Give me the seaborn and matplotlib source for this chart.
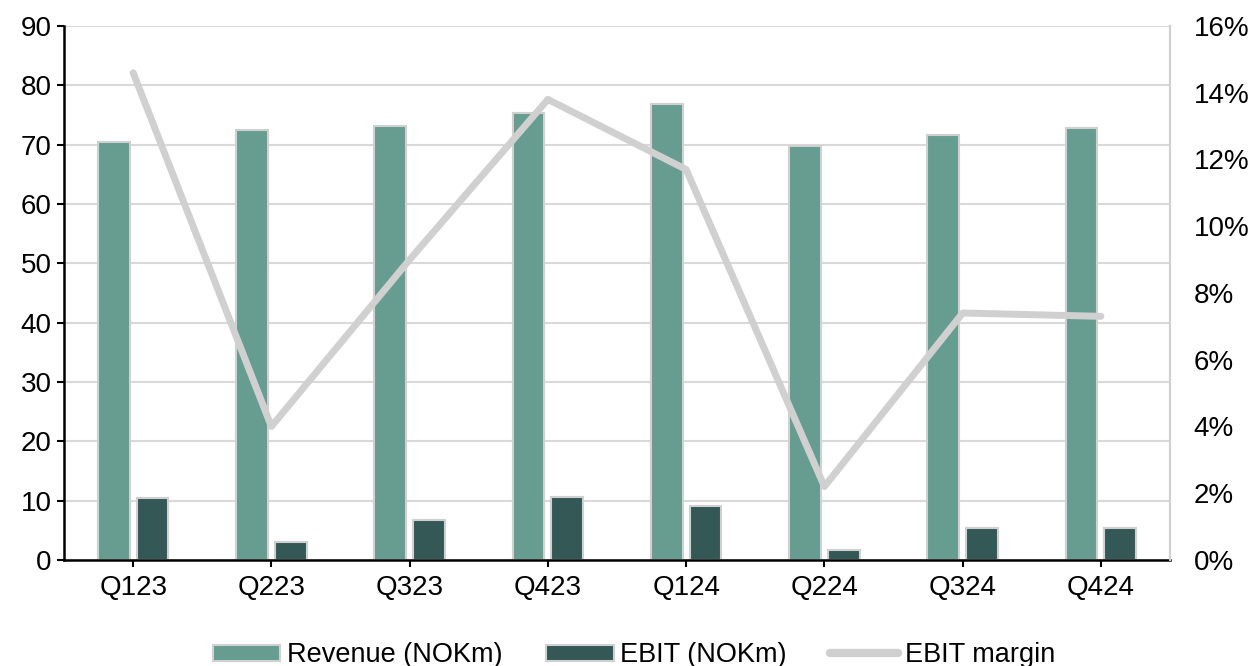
import numpy as np
import matplotlib.pyplot as plt
import matplotlib.ticker as mtick
import pandas as pd
import seaborn as sns

quarters = ["Q123", "Q223", "Q323", "Q423", "Q124", "Q224", "Q324", "Q424"]
revenue = [70.4, 72.4, 73.1, 75.3, 76.9, 69.7, 71.6, 72.8]
ebit = [10.4, 3.0, 6.7, 10.6, 9.1, 1.7, 5.4, 5.4]
margin = [0.146, 0.040, 0.090, 0.138, 0.117, 0.022, 0.074, 0.073]

rev_label = "Revenue (NOKm)"
ebit_label = "EBIT (NOKm)"
margin_label = "EBIT margin"

sns.set_theme(style="white")
plt.rcParams["font.family"] = ["Liberation Sans", "DejaVu Sans"]
plt.rcParams["text.color"] = "black"

df = pd.DataFrame({"quarter": quarters, rev_label: revenue, ebit_label: ebit})
long = df.melt(id_vars="quarter", var_name="series", value_name="value")

fig = plt.figure(figsize=(12.6, 6.66), dpi=100)
ax = fig.add_axes([0.0508, 0.1592, 0.8778, 0.8018])

grid_c = "#d9d9d9"
edge_c = "#d0d0d0"
rev_c = "#679c91"
ebit_c = "#335856"
fs = 20

ax.set_axisbelow(True)
ax.yaxis.grid(True, color=grid_c, linewidth=1.5)

sns.barplot(data=long, x="quarter", y="value", hue="series",
            palette=[rev_c, ebit_c], saturation=1, width=0.56, gap=0.18,
            edgecolor=edge_c, linewidth=1.5, ax=ax, legend=False)

ax.set_ylim(0, 90)
ax.set_yticks(np.arange(0, 91, 10))
ax.set_xlim(-0.5, len(quarters) - 0.5)
ax.set_xlabel("")
ax.set_ylabel("")
ax.tick_params(axis="both", labelsize=fs, colors="black", length=5, width=1.5,
               direction="out")
ax.tick_params(axis="x", pad=6)
ax.tick_params(axis="y", pad=4)
ax.yaxis.set_ticks_position("left")
ax.xaxis.set_ticks_position("bottom")
for s in ["left", "bottom"]:
    ax.spines[s].set_color("black")
    ax.spines[s].set_linewidth(1.8)
ax.spines["top"].set_visible(False)
ax.spines["right"].set_color(edge_c)
ax.spines["right"].set_linewidth(1.5)

ax2 = ax.twinx()
sns.lineplot(x=np.arange(len(quarters)), y=margin, color=edge_c, linewidth=5,
             ax=ax2, legend=False)
ax2.set_ylim(0, 0.16)
ax2.set_yticks(np.arange(0, 0.161, 0.02))
ax2.yaxis.set_major_formatter(mtick.PercentFormatter(1.0, decimals=0))
ax2.tick_params(axis="y", labelsize=fs, colors="black", length=0, pad=17)
for s in ["top", "left", "bottom"]:
    ax2.spines[s].set_visible(False)
ax2.spines["right"].set_color(edge_c)
ax2.spines["right"].set_linewidth(1.5)

handles = [
    plt.Rectangle((0, 0), 1, 1, facecolor=rev_c, edgecolor=edge_c, linewidth=1.5),
    plt.Rectangle((0, 0), 1, 1, facecolor=ebit_c, edgecolor=edge_c, linewidth=1.5),
    plt.Line2D([0], [0], color=edge_c, linewidth=6, solid_capstyle="round"),
]
leg = fig.legend(handles, [rev_label, ebit_label, margin_label], loc="lower center",
                 bbox_to_anchor=(0.503, -0.04), ncol=3, frameon=False, fontsize=19.5,
                 handlelength=2.5, handleheight=0.55, columnspacing=1.6,
                 handletextpad=0.25)
for t in leg.get_texts():
    t.set_color("black")

fig.savefig("out.png", dpi=100)
